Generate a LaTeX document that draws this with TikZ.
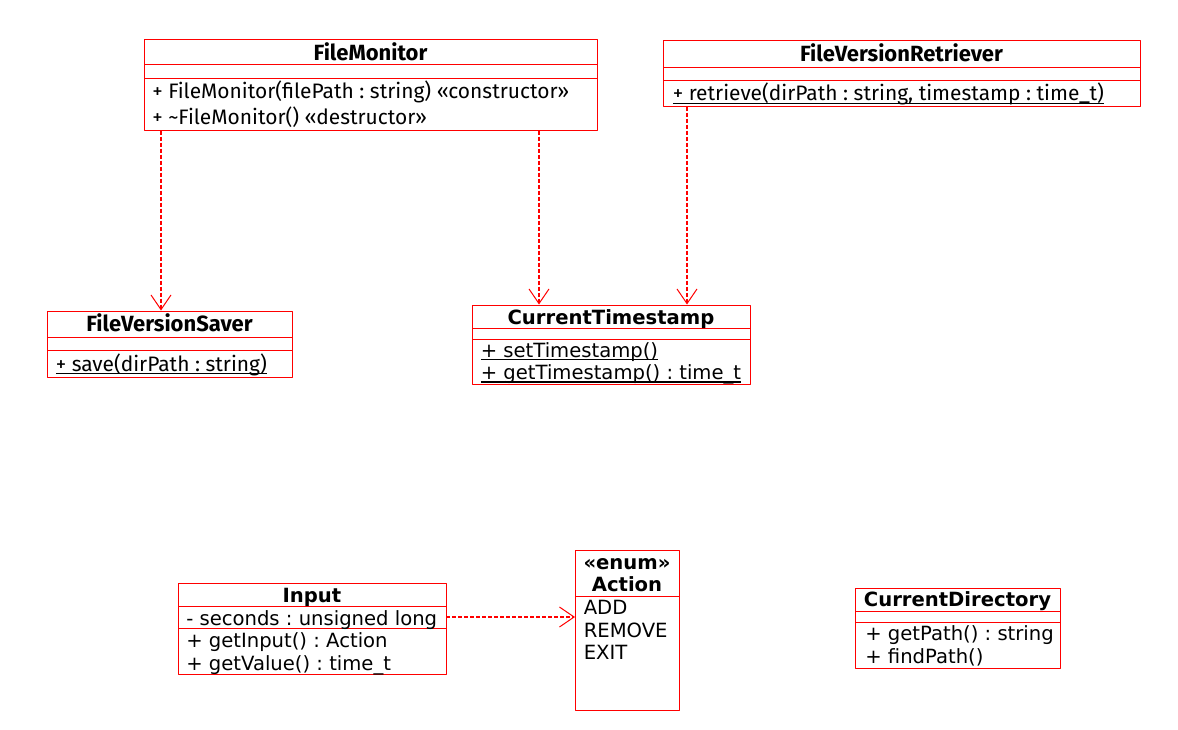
\documentclass[tikz,border=0pt]{standalone}
\usepackage{fontspec}
\setmainfont{DejaVu Sans}
\newfontfamily\ubfont{Fira Sans}
\usetikzlibrary{arrows.meta,fit}
\definecolor{umlred}{RGB}{255,0,0}
\frenchspacing
\newcommand\umlul[1]{\setbox0\hbox{#1}\rlap{\rule[-2.4pt]{\wd0}{0.9pt}}\box0}

\begin{document}
\begin{tikzpicture}[x=0.75pt,y=-0.75pt,line join=round,
	box/.style={draw=umlred,line width=0.75pt,inner sep=0pt},
	sep/.style={draw=umlred,line width=0.75pt},
	dep/.style={draw=umlred,line width=1pt,dash pattern=on 3pt off 1.5pt,-{Straight Barb[length=11pt,width=15pt,line width=0.75pt]}},
	ttl/.style={anchor=base,inner sep=0pt,font=\fontsize{14.7}{17}\selectfont\bfseries},
	mem/.style={anchor=base west,inner sep=0pt,font=\fontsize{14.7}{17}\selectfont},
	uttl/.style={anchor=base,inner sep=0pt,font=\ubfont\fontsize{16.5}{19}\selectfont\bfseries},
	umem/.style={anchor=base west,inner sep=0pt,font=\ubfont\fontsize{15.7}{19}\selectfont}]
	\useasboundingbox (0,0) rectangle (1178,729);
	
	% top row
	\node[box,fit={(144,39) (597,130)}] (monitor) {};
	\draw[sep] (144,64)--(597,64) (144,78)--(597,78);
	\node[uttl] (monitorT) at (370.5,60) {FileMonitor};
	\node[umem] (monitorA) at (152,98) {+ FileMonitor(filePath : string) «constructor»};
	\node[umem] (monitorB) at (152,124) {+ \textasciitilde FileMonitor() «destructor»};
	
	\node[box,fit={(663,40) (1140,106)}] (retriever) {};
	\draw[sep] (663,67)--(1140,67) (663,80)--(1140,80);
	\node[uttl] (retrieverT) at (901.5,61.7) {FileVersionRetriever};
	\node[umem] (retrieverA) at (672.5,100.7) {\umlul{+ retrieve(dirPath : string, timestamp : time\_t)}};
	
	% middle row
	\node[box,fit={(47,311) (292,377)}] (saver) {};
	\draw[sep] (47,337)--(292,337) (47,350)--(292,350);
	\node[uttl] (saverT) at (169.5,331.7) {FileVersionSaver};
	\node[umem] (saverA) at (55.5,371.2) {\umlul{+ save(dirPath : string)}};
	
	\node[box,fit={(472,305) (750,384)}] (stamp) {};
	\draw[sep] (472,328)--(750,328) (472,339)--(750,339);
	\node[ttl] (stampT) at (611,324.3) {CurrentTimestamp};
	\node[mem] (stampA) at (480.5,357) {\umlul{+ setTimestamp()}};
	\node[mem] (stampB) at (480.5,379.3) {\umlul{+ getTimestamp() : time\_t}};
	
	% bottom row
	\node[box,fit={(178,583) (446,674)}] (input) {};
	\draw[sep] (178,606)--(446,606) (178,628)--(446,628);
	\node[ttl] (inputT) at (312,602.3) {Input};
	\node[mem] (inputA) at (186,625) {- seconds : unsigned long};
	\node[mem] (inputB) at (186,647.7) {+ getInput() : Action};
	\node[mem] (inputC) at (186,670) {+ getValue() : time\_t};
	
	\node[box,fit={(575,550) (679,710)}] (action) {};
	\draw[sep] (575,596)--(679,596);
	\node[ttl] (actionS) at (627,569.3) {«enum»};
	\node[ttl] (actionT) at (627,591.7) {Action};
	\node[mem] (actionA) at (583.5,614.3) {ADD};
	\node[mem] (actionB) at (583.5,637) {REMOVE};
	\node[mem] (actionC) at (583.5,659.3) {EXIT};
	
	\node[box,fit={(855,588) (1060,668)}] (dir) {};
	\draw[sep] (855,611)--(1060,611) (855,622)--(1060,622);
	\node[ttl] (dirT) at (957.5,606.7) {CurrentDirectory};
	\node[mem] (dirA) at (865,640) {+ getPath() : string};
	\node[mem] (dirB) at (865,663.3) {+ findPath()};
	
	% dependencies
	\draw[dep] (161,0 |- monitor.south)--(161,0 |- saver.north);
	\draw[dep] (539,0 |- monitor.south)--(539,0 |- stamp.north);
	\draw[dep] (687,0 |- retriever.south)--(687,0 |- stamp.north);
	\draw[dep] (446,617)--(575,617);
\end{tikzpicture}
\end{document}
